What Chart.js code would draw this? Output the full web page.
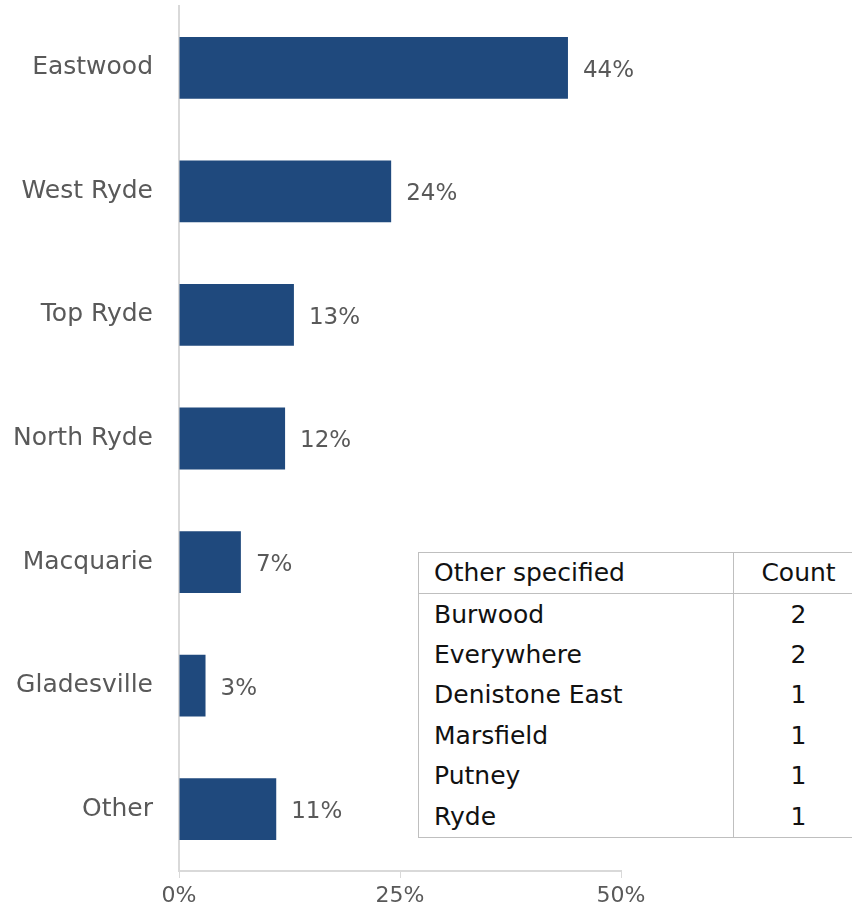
<!DOCTYPE html>
<html>
<head>
<meta charset="utf-8">
<script src="https://cdn.jsdelivr.net/npm/chart.js@4"></script>
<style>
  html, body { margin: 0; padding: 0; background: #fff; }
  #wrap { position: relative; width: 852px; height: 914px; overflow: hidden; }
  #wrap canvas { position: absolute; left: 0; top: 0; }
  #other {
    position: absolute; left: 418px; top: 552px; width: 446px;
    border-collapse: collapse; font-family: "DejaVu Sans", sans-serif;
    font-size: 25px; color: #111; background: #fff;
  }
  #other td { border-left: 1px solid #bfbfbf; border-right: 1px solid #bfbfbf; padding: 0 0 0 15px; height: 40.4px; line-height: 40px; }
  #other tr:first-child td { border-top: 1px solid #bfbfbf; border-bottom: 1px solid #bfbfbf; }
  #other tr:last-child td { border-bottom: 1px solid #bfbfbf; }
  #other td.num { text-align: center; padding: 0; width: 129px; }
</style>
</head>
<body>
<div id="wrap">
  <canvas id="chart" width="852" height="914"></canvas>
  <table id="other"></table>
</div>
<script>
// bar data
const suburbs = ["Eastwood", "West Ryde", "Top Ryde", "North Ryde", "Macquarie", "Gladesville", "Other"];
const shares = [44, 24, 13, 12, 7, 3, 11];
const xTicks = [0, 25, 50];

// "Other specified" table
const otherPlaces = ["Burwood", "Everywhere", "Denistone East", "Marsfield", "Putney", "Ryde"];
const otherCounts = [2, 2, 1, 1, 1, 1];

const FONT = "DejaVu Sans";
const GREY = "#595959";

function buildTable() {
  const table = document.getElementById("other");
  let html = `<tr><td>Other specified</td><td class="num">Count</td></tr>`;
  otherPlaces.forEach((p, i) => {
    html += `<tr><td>${p}</td><td class="num">${otherCounts[i]}</td></tr>`;
  });
  table.innerHTML = html;
}

const barLabels = {
  id: "barLabels",
  afterDatasetsDraw(chart) {
    const ctx = chart.ctx;
    const meta = chart.getDatasetMeta(0);
    ctx.save();
    ctx.font = `23px "${FONT}"`;
    ctx.fillStyle = GREY;
    ctx.textBaseline = "middle";
    ctx.textAlign = "left";
    meta.data.forEach((bar, i) => {
      ctx.fillText(shares[i] + "%", bar.x + 15, bar.y + 3);
    });
    ctx.restore();
  }
};

buildTable();

new Chart(document.getElementById("chart"), {
  type: "bar",
  data: {
    labels: suburbs,
    datasets: [{
      data: shares,
      backgroundColor: "#1f497d",
      barPercentage: 0.5,
      categoryPercentage: 1
    }]
  },
  options: {
    indexAxis: "y",
    responsive: false,
    animation: false,
    layout: { padding: { top: 6, right: 231, bottom: 0, left: 0 } },
    plugins: { legend: { display: false }, tooltip: { enabled: false } },
    scales: {
      x: {
        min: 0, max: 50,
        afterBuildTicks: s => { s.ticks = xTicks.map(v => ({ value: v })); },
        afterFit: s => { s.height = 43; },
        grid: { drawOnChartArea: false, tickLength: 7, color: "#d9d9d9" },
        border: { color: "#d9d9d9", width: 2 },
        ticks: {
          padding: 5,
          color: GREY,
          font: { family: FONT, size: 22 },
          callback: v => v + "%"
        }
      },
      y: {
        afterFit: s => { s.width = 179; s.paddingTop = 0; s.paddingBottom = 0; },
        grid: { display: false, drawTicks: false },
        border: { color: "#d9d9d9", width: 2 },
        ticks: {
          padding: 26,
          color: GREY,
          font: { family: FONT, size: 25 }
        }
      }
    }
  },
  plugins: [barLabels]
});
</script>
</body>
</html>
